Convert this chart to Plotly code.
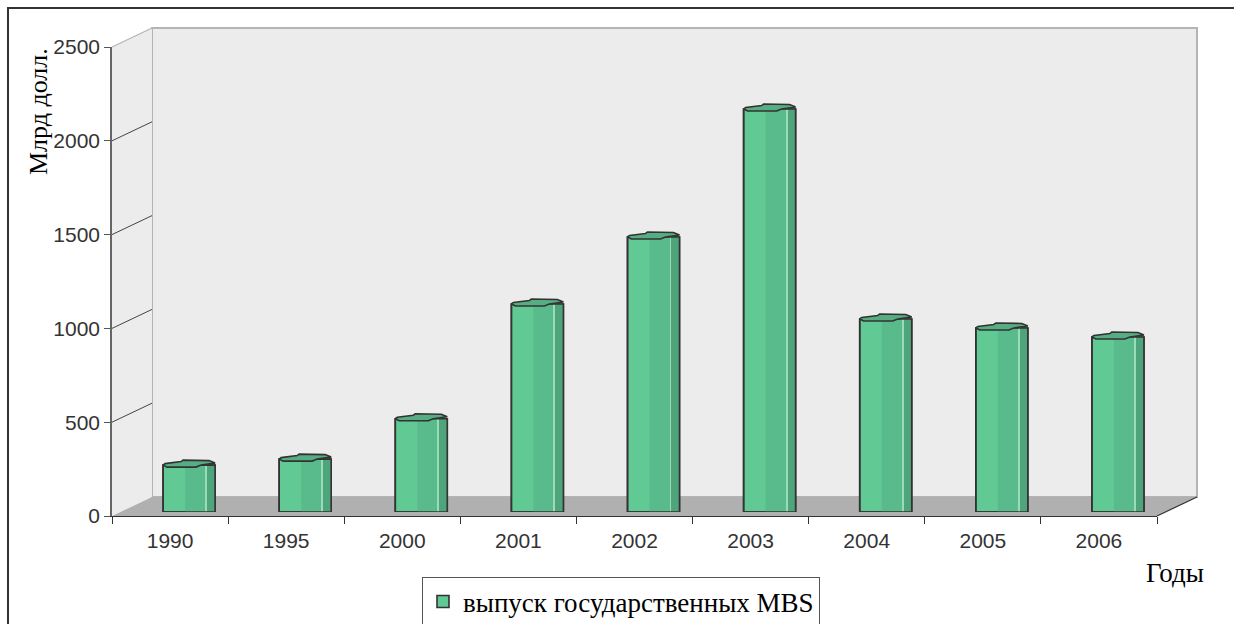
import plotly.graph_objects as go

# ---- data ----
years = ["1990", "1995", "2000", "2001", "2002", "2003", "2004", "2005", "2006"]
values = [250, 282, 497, 1109, 1466, 2148, 1029, 981, 933]
y_ticks = [0, 500, 1000, 1500, 2000, 2500]
series_name = "выпуск государственных MBS"
y_title = "Млрд долл."
x_title = "Годы"

# ---- geometry (pixels) ----
W, H = 1234, 624
FX0, FX1 = 112, 1157          # front x-axis extent
FY0, FY1 = 516, 47            # front y for value 0 / 2500
DX, DY = 40, 19               # depth offset of back wall
BDX, BDY = 19, 4              # depth offset of bars
YMAX = 2500
px_per_unit = (FY0 - FY1) / YMAX


def px(p):
    return p / W


def py(p):
    return 1 - p / H


fig = go.Figure()

idx = list(range(len(years)))
n = len(years)
cat_px = (FX1 - FX0) / n
ux = 1 / cat_px               # category units per px
uy = 1 / px_per_unit          # value units per px

bw_px = 52
bw = bw_px * ux
left = -bw / 2

# invisible trace to populate category axis
fig.add_trace(go.Scatter(x=years, y=values, mode="markers", marker=dict(opacity=0),
                         hoverinfo="skip", showlegend=False, xaxis="x", yaxis="y"))

# base bar (light face + outline) -> legend entry
fig.add_trace(go.Bar(x=idx, y=values, width=bw, name=series_name,
                     marker=dict(color="#60c994", line=dict(color="#333333", width=1.6)),
                     xaxis="x3", yaxis="y3", showlegend=True))
# shading strips
strips = [(22, 43, "#59bb8b"), (43, 52, "#4fa57b"), (42.5, 43.5, "#9adbb9")]
for a, b, col in strips:
    fig.add_trace(go.Bar(x=idx, y=values, width=(b - a) * ux, offset=left + a * ux,
                         marker=dict(color=col, line=dict(width=0)),
                         xaxis="x3", yaxis="y3", showlegend=False, hoverinfo="skip"))
# outline on top
fig.add_trace(go.Bar(x=idx, y=values, width=bw,
                     marker=dict(color="rgba(0,0,0,0)", line=dict(color="#333333", width=1.6)),
                     xaxis="x3", yaxis="y3", showlegend=False, hoverinfo="skip"))

# top caps (octagonal prism tops)
cap = [(0, 0), (4, -2), (33, -2), (38, 0), (52, 2), (46, 4.5), (20, 5), (18, 3.5), (2, 1.5), (0, 0)]
for i, v in zip(idx, values):
    cx = [i + left + a * ux for a, _ in cap]
    cy = [v + b * uy for _, b in cap]
    fig.add_trace(go.Scatter(x=cx, y=cy, mode="lines", fill="toself", fillcolor="#55ad81",
                             line=dict(color="#333333", width=1.6), xaxis="x3", yaxis="y3",
                             showlegend=False, hoverinfo="skip"))

# ---- decoration shapes ----
shapes = []
# back wall
shapes.append(dict(type="rect", xref="paper", yref="paper",
                   x0=px(FX0 + DX), x1=px(FX1 + DX), y0=py(FY0 - DY), y1=py(FY1 - DY),
                   fillcolor="#ececec", line=dict(color="#b4b4b4", width=2), layer="below"))
# side wall
shapes.append(dict(type="path", xref="paper", yref="paper",
                   path=f"M{px(FX0)},{py(FY0)} L{px(FX0+DX)},{py(FY0-DY)} L{px(FX0+DX)},{py(FY1-DY)} L{px(FX0)},{py(FY1)} Z",
                   fillcolor="#ececec", line=dict(width=0), layer="below"))
# floor
shapes.append(dict(type="path", xref="paper", yref="paper",
                   path=f"M{px(FX0)},{py(FY0)} L{px(FX1)},{py(FY0)} L{px(FX1+DX)},{py(FY0-DY)} L{px(FX0+DX)},{py(FY0-DY)} Z",
                   fillcolor="#b0b0b0", line=dict(width=0), layer="below"))
shapes.append(dict(type="line", xref="paper", yref="paper",
                   x0=px(FX1), y0=py(FY0), x1=px(FX1 + DX), y1=py(FY0 - DY),
                   line=dict(color="#333333", width=1.2)))
# side wall grid lines
for v in y_ticks[1:]:
    yf = FY0 - v * px_per_unit
    col = "#b4b4b4" if v == YMAX else "#444444"
    shapes.append(dict(type="line", xref="paper", yref="paper",
                       x0=px(FX0), y0=py(yf), x1=px(FX0 + DX), y1=py(yf - DY),
                       line=dict(color=col, width=1.2 if v == YMAX else 1), layer="below"))
# outer frame
shapes.append(dict(type="rect", xref="paper", yref="paper",
                   x0=px(8), y0=py(8), x1=1.02, y1=-0.02,
                   line=dict(color="#333333", width=2), fillcolor="rgba(0,0,0,0)"))

tickfont = dict(family="Liberation Sans, Arial", size=21, color="#333333")
serif = "Liberation Serif, Times New Roman"

fig.update_layout(
    width=W, height=H,
    margin=dict(l=0, r=0, t=0, b=0, autoexpand=False),
    paper_bgcolor="white",
    plot_bgcolor="rgba(0,0,0,0)",
    barmode="overlay",
    shapes=shapes,
    xaxis=dict(domain=[px(FX0), px(FX1)], anchor="y", type="category",
               categoryorder="array", categoryarray=years,
               range=[-0.5, n - 0.5], tickson="boundaries", ticks="outside", ticklen=7,
               tickcolor="#333333", showline=True, linecolor="#333333", linewidth=1,
               showgrid=False, zeroline=False, tickfont=tickfont, fixedrange=True,
               ticklabelstandoff=6),
    yaxis=dict(domain=[py(FY0), py(FY1)], anchor="x", range=[0, YMAX], tickvals=y_ticks,
               ticks="outside", ticklen=6, tickcolor="#555555", showline=True,
               linecolor="#666666", linewidth=1.5, showgrid=False, zeroline=False,
               tickfont=tickfont, fixedrange=True),
    xaxis2=dict(domain=[px(FX0 + DX), px(FX1 + DX)], anchor="y2", range=[0, 1],
                visible=False, showgrid=False),
    yaxis2=dict(domain=[py(FY0 - DY), py(FY1 - DY)], anchor="x2", range=[0, YMAX],
                tickvals=y_ticks[1:-1], showgrid=True, gridcolor="#7a7a7a", gridwidth=1,
                showticklabels=False, ticks="", showline=False, zeroline=False),
    xaxis3=dict(domain=[px(FX0 + BDX), px(FX1 + BDX)], anchor="y3", range=[-0.5, n - 0.5],
                visible=False, showgrid=False),
    yaxis3=dict(domain=[py(FY0 - BDY), py(FY1 - BDY)], anchor="x3", range=[0, YMAX],
                visible=False, showgrid=False),
    legend=dict(x=px(621), y=py(602), xanchor="center", yanchor="middle",
                orientation="h", bgcolor="white", bordercolor="#555555", borderwidth=1,
                font=dict(family=serif, size=27, color="black")),
    annotations=[
        dict(text=y_title, x=px(38), y=py(112), xref="paper", yref="paper",
             textangle=-90, showarrow=False, xanchor="center", yanchor="middle",
             font=dict(family=serif, size=26, color="black")),
        dict(text=x_title, x=px(1175), y=py(573), xref="paper", yref="paper",
             showarrow=False, xanchor="center", yanchor="middle",
             font=dict(family=serif, size=27, color="black")),
    ],
)

fig.write_html("out.html")
